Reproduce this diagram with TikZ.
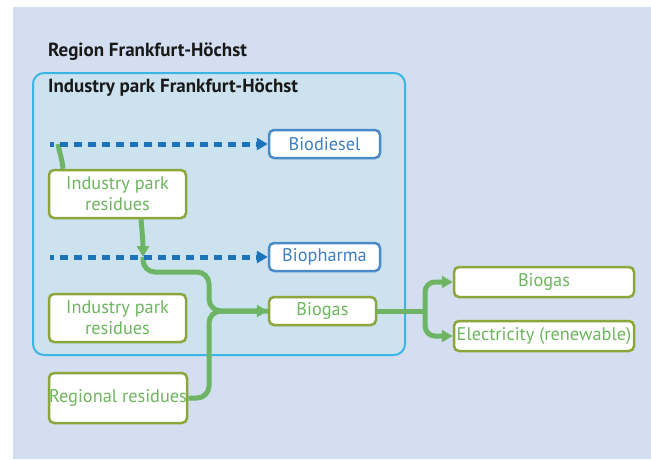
\documentclass[tikz,border=0pt]{standalone}
\usepackage{fontspec}
\setmainfont{PT Sans}
\usetikzlibrary{arrows.meta}

\definecolor{bgblue}{RGB}{211,223,240}
\definecolor{parkfill}{RGB}{204,227,239}
\definecolor{parkline}{RGB}{59,181,227}
\definecolor{linegreen}{RGB}{109,181,100}
\definecolor{boxgreen}{RGB}{139,166,59}
\definecolor{txtgreen}{RGB}{109,182,94}
\definecolor{lineblue}{RGB}{28,115,185}
\definecolor{boxblue}{RGB}{74,138,201}
\definecolor{txtblue}{RGB}{63,127,193}

\begin{document}
\begin{tikzpicture}[x=1pt, y=-1pt,
    resbox/.style={draw=boxgreen, line width=2.5pt, fill=white, rounded corners=5pt,
        text=txtgreen, font=\fontsize{18.3}{21}\selectfont, inner sep=0pt, align=center},
    prodbox/.style={draw=boxblue, line width=2.5pt, fill=white, rounded corners=5pt,
        text=txtblue, font=\fontsize{18.3}{21}\selectfont, inner sep=0pt,
        minimum width=111pt, minimum height=28pt},
    flow/.style={draw=linegreen, line width=5pt},
    dashflow/.style={draw=lineblue, line width=5pt, dash pattern=on 8.5pt off 5.5pt, dash phase=4.5pt},
    tip/.style={-{Triangle[length=11pt,width=12pt]}},
    title/.style={anchor=west, inner sep=0pt, text=black!90, font=\fontsize{19}{21}\selectfont\bfseries}]

    \useasboundingbox (0,0) rectangle (651,459);
    \fill[bgblue] (13,7) rectangle (651,459);

    % region and industry park
    \node[title] (region) at (48,52) {Region Frankfurt-Höchst};
    \draw[parkline, fill=parkfill, line width=2pt, rounded corners=11pt] (33,73) rectangle (405,355);
    \node[title] (park) at (48,88) {Industry park Frankfurt-Höchst};

    % boxes
    \node[prodbox] (biodiesel) at (324.5,144) {Biodiesel};
    \node[prodbox] (biopharma) at (324.5,257) {Biopharma};
    \node[resbox, minimum width=137pt, minimum height=48pt] (res1) at (117.5,194) {Industry park\\residues};
    \node[resbox, minimum width=137pt, minimum height=48pt] (res2) at (117.5,318) {Industry park\\residues};
    \node[resbox, minimum width=138pt, minimum height=50pt] (regional) at (118,398) {Regional residues};
    \node[resbox, minimum width=107pt, minimum height=28pt] (biogas) at (322.5,311) {Biogas};
    \node[resbox, minimum width=180pt, minimum height=30pt] (gasout) at (544,282) {Biogas};
    \node[resbox, minimum width=180pt, minimum height=30pt] (power) at (544,336) {Electricity (renewable)};

    \coordinate (dash1) at (50,144);
    \coordinate (dash2) at (50,257);
    \coordinate (tap1) at (58,144);
    \coordinate (tap2) at (143,257);
    \coordinate (bend) at (209,311);
    \coordinate (split) at (425,311);

    % green flows
    \draw[flow] (tap1) to[out=-80,in=95] ([xshift=-54.5]res1.north);
    \draw[flow, tip] ([xshift=23.5]res1.south) to[out=-85,in=90] (tap2);
    \draw[flow, tip, rounded corners=12pt] (tap2) |- (bend |- 0,272) |- (biogas.west);
    \draw[flow, rounded corners=12pt] (regional.east) -| (bend) -- (biogas.west);
    \draw[flow] (biogas.east) -- (split);
    \draw[flow, tip, rounded corners=10pt] (split) |- (gasout.west);
    \draw[flow, tip, rounded corners=10pt] (split) |- (power.west);

    % blue dashed flows
    \draw[dashflow, tip] (dash1) -- (biodiesel.west);
    \draw[dashflow, tip] (dash2) -- (biopharma.west);
\end{tikzpicture}
\end{document}
